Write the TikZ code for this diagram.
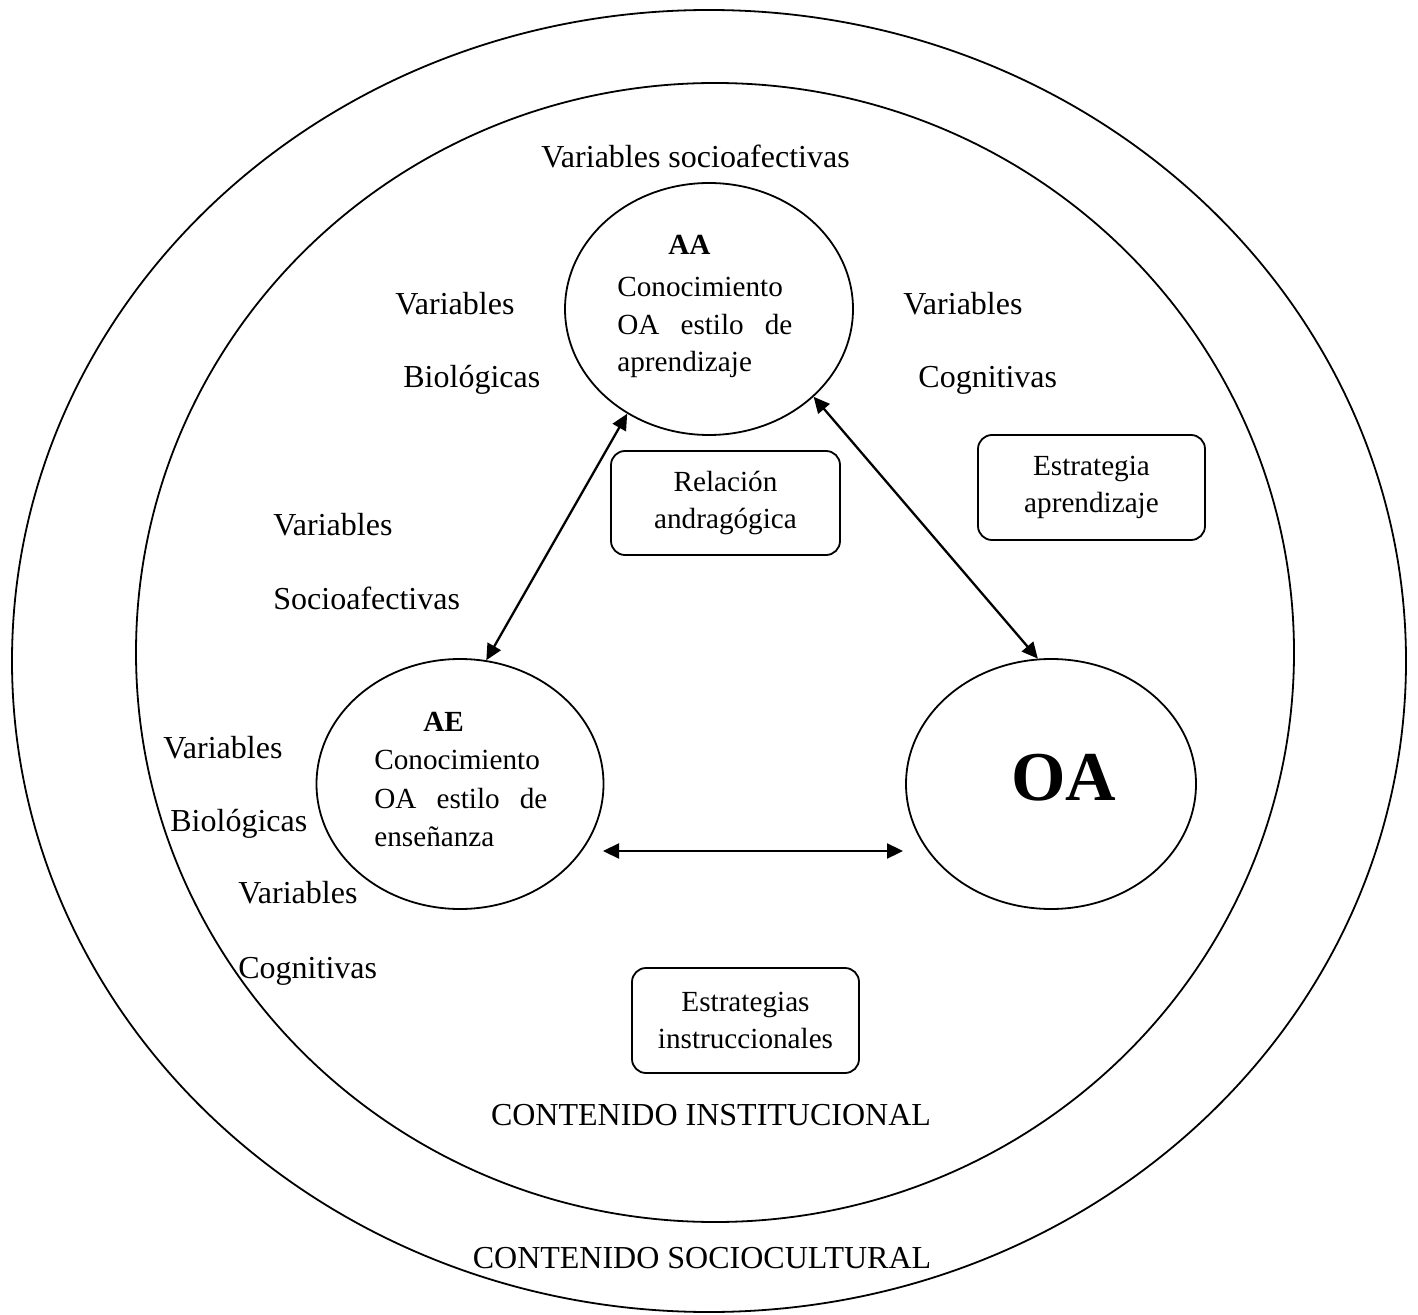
\documentclass[tikz,border=0pt]{standalone}
\usepackage{fontspec}
\setmainfont{Liberation Serif}
\usetikzlibrary{shapes.geometric,arrows.meta}
\begin{document}
\begin{tikzpicture}[x=0.5pt,y=-0.5pt,
  ring/.style={draw,ellipse,line width=0.9pt,inner sep=0pt},
  agent/.style={draw,ellipse,line width=0.9pt,inner sep=0pt},
  lab/.style={anchor=base west,inner sep=0pt,font=\fontsize{16}{19}\selectfont},
  ctr/.style={anchor=base,inner sep=0pt,font=\fontsize{16}{19}\selectfont},
  itxt/.style={anchor=base west,inner sep=0pt,font=\fontsize{14.6}{19}\selectfont},
  rbox/.style={draw,rounded corners=7pt,line width=0.9pt,align=center,inner sep=0pt,font=\fontsize{14.6}{18.8}\selectfont},
  link/.style={line width=1.15pt,{Triangle[length=8pt,width=7.5pt]}-{Triangle[length=8pt,width=7.5pt]}}]
\useasboundingbox (0,0) rectangle (1418,1315);
% rings
\node[ring,minimum width=697pt,minimum height=651pt] (outer) at (709,661) {};
\node[ring,minimum width=579pt,minimum height=569.5pt] (inner) at (715,652.5) {};
% agents
\node[agent,minimum width=144pt,minimum height=126pt] (AA) at (709,309) {};
\node[agent,minimum width=143.5pt,minimum height=125pt] (AE) at (460,784) {};
\node[agent,minimum width=145pt,minimum height=125pt] (OA) at (1051,784) {};
% AA text
\node[itxt,font=\fontsize{14.6}{19}\selectfont\bfseries] (aat) at (668,255) {AA};
\node[itxt] (aa1) at (617,297) {Conocimiento};
\node[itxt] (aa2) at (617,335) {\makebox[87.5pt][s]{OA estilo de}};
\node[itxt] (aa3) at (617,372) {aprendizaje};
% AE text
\node[itxt,font=\fontsize{14.6}{19}\selectfont\bfseries] (aet) at (423,731) {AE};
\node[itxt] (ae1) at (374,769) {Conocimiento};
\node[itxt] (ae2) at (374,808) {\makebox[86.5pt][s]{OA estilo de}};
\node[itxt] (ae3) at (374,846) {enseñanza};
% OA text
\node[anchor=base,inner sep=0pt,font=\fontsize{35}{40}\selectfont\bfseries] (oat) at (1064,800) {OA};
% connectors
\draw[link] (AA.232) -- (AE.78);
\draw[link] (AA.-40) -- (OA.96);
\coordinate (h1) at (603,851);
\coordinate (h2) at (903,851);
\draw[link] (h1) -- (h2);
% boxes
\node[rbox,minimum width=114.5pt,minimum height=52pt] (rel) at (725.5,503) {Relación\\andragógica};
\node[rbox,minimum width=113.5pt,minimum height=52.5pt] (eap) at (1091.5,487.5) {Estrategia\\aprendizaje};
\node[rbox,minimum width=113.5pt,minimum height=52.5pt] (ein) at (745.5,1020.5) {Estrategias\\instruccionales};
% labels
\node[lab] (vs) at (541,168) {Variables socioafectivas};
\node[lab] (v1) at (395,315) {Variables};
\node[lab] (b1) at (403,388) {Biológicas};
\node[lab] (v2) at (903,315) {Variables};
\node[lab] (c2) at (918,388) {Cognitivas};
\node[lab] (v3) at (273,536) {Variables};
\node[lab] (s3) at (273,610) {Socioafectivas};
\node[lab] (v4) at (163,758) {Variables};
\node[lab] (b4) at (170,831) {Biológicas};
\node[lab] (v5) at (238,903) {Variables};
\node[lab] (c5) at (238,978) {Cognitivas};
\node[ctr] (ci) at (711,1125) {CONTENIDO INSTITUCIONAL};
\node[ctr] (cs) at (702,1268) {CONTENIDO SOCIOCULTURAL};
\end{tikzpicture}
\end{document}
